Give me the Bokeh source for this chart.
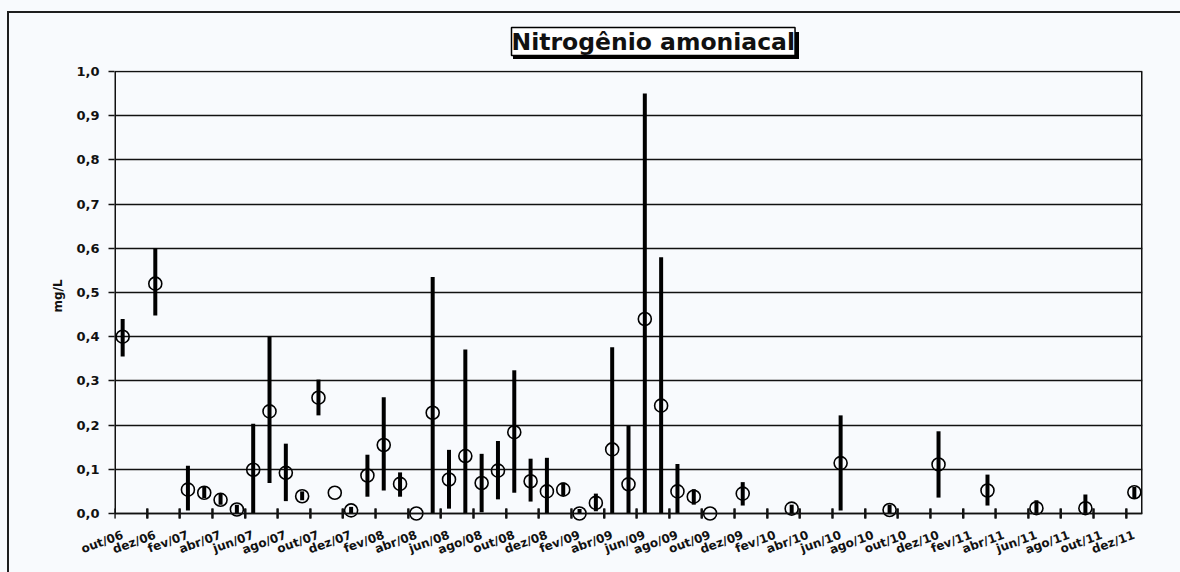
from bokeh.plotting import figure
from bokeh.models import (Range1d, FixedTicker, LinearAxis, CustomJSTickFormatter,
                          ColumnDataSource, InlineStyleSheet)
from bokeh.embed import file_html
from bokeh.resources import INLINE

# ---------------- data ----------------
titulo = "Nitrogênio amoniacal"
unidade = "mg/L"
meses_pt = ["jan", "fev", "mar", "abr", "mai", "jun", "jul", "ago", "set", "out", "nov", "dez"]
anos = [2006, 2007, 2008, 2009, 2010, 2011]
primeiro_mes = 9  # out/06

categorias = []
for ano in anos:
    for m, nome in enumerate(meses_pt):
        if ano == anos[0] and m < primeiro_mes:
            continue
        categorias.append(f"{nome}/{str(ano)[2:]}")

rotulos_x = categorias[::2]
y_ticks = [0.0, 0.1, 0.2, 0.3, 0.4, 0.5, 0.6, 0.7, 0.8, 0.9, 1.0]

amostras = ["out/06", "dez/06", "fev/07", "mar/07", "abr/07", "mai/07", "jun/07", "jul/07",
            "ago/07", "set/07", "out/07", "nov/07", "dez/07", "jan/08", "fev/08", "mar/08",
            "abr/08", "mai/08", "jun/08", "jul/08", "ago/08", "set/08", "out/08", "nov/08",
            "dez/08", "jan/09", "fev/09", "mar/09", "abr/09", "mai/09", "jun/09", "jul/09",
            "ago/09", "set/09", "out/09", "dez/09", "mar/10", "jun/10", "set/10", "dez/10",
            "mar/11", "jun/11", "set/11", "dez/11"]
media = [0.40, 0.52, 0.054, 0.047, 0.031, 0.009, 0.099, 0.231, 0.092, 0.039,
         0.262, 0.047, 0.007, 0.086, 0.155, 0.067, 0.0, 0.228, 0.077, 0.130,
         0.069, 0.097, 0.184, 0.073, 0.050, 0.054, 0.0, 0.024, 0.145, 0.066,
         0.44, 0.244, 0.050, 0.038, 0.0, 0.045, 0.011, 0.114, 0.008, 0.111,
         0.052, 0.012, 0.012, 0.048]
minimo = [0.355, 0.448, 0.007, 0.035, 0.020, 0.0, 0.0, 0.069, 0.028, 0.030,
          0.222, 0.047, 0.0, 0.038, 0.052, 0.038, 0.0, 0.0, 0.011, 0.0,
          0.003, 0.032, 0.047, 0.027, 0.0, 0.040, 0.0, 0.005, 0.0, 0.0,
          0.0, 0.0, 0.0, 0.020, 0.0, 0.018, 0.0, 0.007, 0.0, 0.036,
          0.018, 0.0, 0.0, 0.035]
maximo = [0.44, 0.60, 0.108, 0.060, 0.045, 0.020, 0.203, 0.40, 0.158, 0.050,
          0.303, 0.047, 0.015, 0.133, 0.263, 0.093, 0.0, 0.535, 0.144, 0.371,
          0.135, 0.164, 0.324, 0.124, 0.126, 0.070, 0.010, 0.045, 0.376, 0.198,
          0.95, 0.58, 0.112, 0.055, 0.0, 0.071, 0.020, 0.222, 0.020, 0.186,
          0.088, 0.030, 0.043, 0.060]

# ---------------- figure ----------------
FONT = "DejaVu Sans"
BG = "#f8fafd"
INK = "#111111"
n_cat = len(categorias)
PX = 1.0 / 442  # one pixel in y data units

xpos = [categorias.index(a) + 0.5 for a in amostras]
src = ColumnDataSource(dict(x=xpos, media=media, minimo=minimo, maximo=maximo))

p = figure(width=1180, height=572, output_backend="svg", toolbar_location=None,
           x_range=Range1d(0, n_cat), y_range=Range1d(-8 * PX, 1.0 + 1 * PX),
           min_border_left=114, min_border_right=38, min_border_top=70, min_border_bottom=51,
           background_fill_color=BG, border_fill_color=None, outline_line_color=None,
           title=titulo)

# chart-area frame (left/top edges) and the title's drop shadow, drawn behind the canvas
p.stylesheets = [InlineStyleSheet(css=(
    ":host { background:"
    " linear-gradient(#1e1e1e,#1e1e1e) 7px 11px / 1173px 2px no-repeat,"
    " linear-gradient(#1e1e1e,#1e1e1e) 7px 11px / 2px 561px no-repeat,"
    " linear-gradient(#000,#000) 513px 32px / 286px 27px no-repeat,"
    " " + BG + "; }"
))]

# title box
p.title.align = "left"
p.title.offset = 397
p.title.standoff = 30
p.title.text_font = FONT
p.title.text_font_style = "bold"
p.title.text_font_size = "23.5px"
p.title.text_color = INK
p.title.background_fill_color = "white"
p.title.border_line_color = "black"
p.title.border_line_width = 1.5

# grid
p.xgrid.visible = False
p.ygrid.ticker = FixedTicker(ticks=y_ticks)
p.ygrid.grid_line_color = INK
p.ygrid.grid_line_width = 1.5

# y axis
yax = p.yaxis[0]
yax.ticker = FixedTicker(ticks=y_ticks)
yax.formatter = CustomJSTickFormatter(code="return tick.toFixed(1).replace('.', ',')")
yax.axis_line_color = None
yax.major_tick_in = 0
yax.major_tick_out = 6
yax.major_tick_line_width = 1.5
yax.major_tick_line_color = INK
yax.minor_tick_line_color = None
yax.major_label_text_font = FONT
yax.major_label_text_font_style = "bold"
yax.major_label_text_font_size = "13px"
yax.major_label_text_color = INK
yax.major_label_standoff = 9
yax.axis_label = unidade
yax.axis_label_text_font = FONT
yax.axis_label_text_font_style = "bold"
yax.axis_label_text_font_size = "12px"
yax.axis_label_text_color = INK
yax.axis_label_standoff = 8

# x axis 1: line at 0,0 with tick marks on every second month boundary
tick_x = list(range(0, n_cat, 2))
xax = p.xaxis[0]
xax.fixed_location = 0
xax.ticker = FixedTicker(ticks=tick_x)
xax.formatter = CustomJSTickFormatter(code="return ''")
xax.axis_line_width = 1.5
xax.axis_line_color = INK
xax.major_tick_in = 5
xax.major_tick_out = 5
xax.major_tick_line_width = 2
xax.major_tick_line_color = INK
xax.minor_tick_line_color = None
xax.major_label_standoff = 0

# x axis 2: rotated labels at the category centres
lab_ticks = [i + 0.5 for i in range(0, n_cat, 2)]
xlab = LinearAxis(ticker=FixedTicker(ticks=lab_ticks),
                  formatter=CustomJSTickFormatter(args=dict(labels=rotulos_x),
                                                  code="return labels[Math.round((tick - 0.5) / 2)]"),
                  axis_line_color=None, major_tick_line_color=None, minor_tick_line_color=None,
                  major_tick_in=0, major_tick_out=0,
                  major_label_orientation=0.349, major_label_standoff=13,
                  major_label_text_font=FONT, major_label_text_font_style="bold",
                  major_label_text_font_size="12px", major_label_text_color=INK)
p.add_layout(xlab, "below")

# tick marks again as thin bars inside the (slightly extended) plot area
tick_src = ColumnDataSource(dict(x=[float(v) for v in tick_x],
                                 lo=[-5 * PX] * len(tick_x), hi=[5 * PX] * len(tick_x)))
p.vbar(x="x", bottom="lo", top="hi", width=2.0 / 16.32, source=tick_src,
       fill_color=INK, line_color=None)

# plot-area side borders
p.segment(x0=[0, n_cat], y0=[0, 0], x1=[0, n_cat], y1=[1, 1], line_color=INK, line_width=3)

# range bars and mean markers
p.segment(x0="x", y0="minimo", x1="x", y1="maximo", source=src,
          line_color="black", line_width=4, line_cap="butt")
p.scatter(x="x", y="media", source=src, marker="circle", size=13,
          fill_color=None, line_color="black", line_width=1.6)

open("out.html", "w").write(file_html(p, INLINE))
